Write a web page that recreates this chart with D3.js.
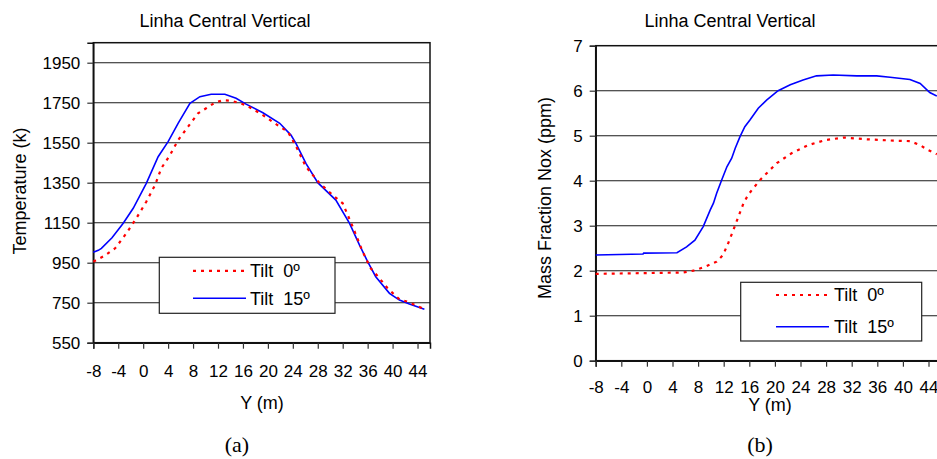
<!DOCTYPE html>
<html>
<head>
<meta charset="utf-8">
<script src="https://cdn.jsdelivr.net/npm/d3@7/dist/d3.min.js"></script>
<style>
  html, body { margin: 0; padding: 0; background: #fff; }
  svg { display: block; }
  text { font-family: "Liberation Sans", Arial, sans-serif; fill: #000; }
</style>
</head>
<body>
<svg id="chart" width="937" height="459"></svg>
<script>
// ---------- data ----------
const xTicks = [-8, -4, 0, 4, 8, 12, 16, 20, 24, 28, 32, 36, 40, 44];

// Panel (a) temperature
const tempTicks = [550, 750, 950, 1150, 1350, 1550, 1750, 1950];
const tempTilt15 = [
  [-8, 1002], [-7.2, 1012], [-6.7, 1022], [-5.0, 1075], [-3.2, 1147], [-1.6, 1222], [0.5, 1347],
  [2.4, 1480], [4.0, 1555], [5.6, 1647], [7.5, 1747], [9.1, 1780], [10.9, 1792],
  [13.1, 1792], [14.9, 1772], [16.5, 1743], [19.2, 1700], [21.9, 1647], [23.7, 1588],
  [24.5, 1547], [26.1, 1447], [28.0, 1350], [30.9, 1263], [33.1, 1147], [34.7, 1038],
  [36.0, 955], [37.3, 880], [39.5, 797], [41.1, 763], [42.7, 743], [45.1, 717]
];
const tempTilt0 = [
  [-8, 955], [-6.2, 985], [-4.5, 1022], [-2.7, 1097], [-1.1, 1172], [0.5, 1255],
  [1.9, 1338], [2.9, 1422], [4.3, 1488], [5.6, 1563], [7.2, 1630], [8.8, 1697],
  [10.1, 1722], [11.5, 1750], [12.8, 1763], [14.1, 1760], [16.5, 1738], [19.2, 1688],
  [21.9, 1630], [23.2, 1605], [24.5, 1533], [26.1, 1430], [28.3, 1347], [30.7, 1280],
  [32.0, 1247], [33.6, 1130], [35.2, 1005], [36.5, 922], [37.9, 872], [39.2, 822],
  [41.1, 767], [42.4, 755], [44.8, 722]
];

// Panel (b) NOx mass fraction
const noxTicks = [0, 1, 2, 3, 4, 5, 6, 7];
const noxTilt15 = [
  [-8, 2.35], [-0.6, 2.37], [-0.5, 2.39], [4.7, 2.40], [6.2, 2.53], [7.5, 2.68],
  [8.8, 2.98], [9.9, 3.35], [10.4, 3.50], [10.9, 3.72], [11.7, 4.02], [12.5, 4.31],
  [13.25, 4.50], [13.8, 4.72], [14.55, 4.98], [15.3, 5.20], [16.1, 5.35], [17.4, 5.61],
  [18.7, 5.79], [20.5, 6.00], [22.4, 6.13], [24.4, 6.24], [26.5, 6.33], [29.1, 6.35],
  [32.8, 6.33], [35.9, 6.33], [38.0, 6.30], [41.1, 6.25], [42.7, 6.16], [44.2, 5.96],
  [45.3, 5.88]
];
const noxTilt0 = [
  [-8, 1.93], [5.7, 1.96], [7.25, 2.00], [9.3, 2.10], [10.9, 2.20], [11.9, 2.35],
  [12.7, 2.61], [13.5, 2.90], [14.3, 3.20], [15.1, 3.50], [15.8, 3.68], [16.6, 3.83],
  [17.9, 4.05], [20.3, 4.39], [22.6, 4.61], [25.2, 4.79], [27.8, 4.90], [30.7, 4.96],
  [34.3, 4.92], [38.5, 4.89], [41.1, 4.88], [42.7, 4.79], [43.7, 4.70], [45.3, 4.59]
];

const titleText = "Linha Central Vertical";
const legendLabels = ["Tilt\u00A0 0º", "Tilt\u00A0 15º"];

// ---------- drawing ----------
const svg = d3.select("#chart");
const fmt = d => String(d);

function panel(cfg) {
  const g = svg.append("g");
  const x = d3.scaleLinear().domain([-8, 46]).range([cfg.left, cfg.right]);
  const y = d3.scaleLinear().domain(cfg.yDomain).range([cfg.bottom, cfg.top]);

  // gridlines
  g.append("g").selectAll("line").data(cfg.yTicks.filter(v => v > cfg.yDomain[0] && v < cfg.yDomain[1]))
    .join("line")
    .attr("x1", cfg.left).attr("x2", cfg.right)
    .attr("y1", d => y(d)).attr("y2", d => y(d))
    .attr("stroke", "#1a1a1a").attr("stroke-width", 1.1);

  // frame
  g.append("rect")
    .attr("x", cfg.left).attr("y", cfg.top)
    .attr("width", cfg.right - cfg.left).attr("height", cfg.bottom - cfg.top)
    .attr("fill", "none").attr("stroke", "#111").attr("stroke-width", 1.5);

  // y axis
  const yAxis = d3.axisLeft(y).tickValues(cfg.yTicks).tickSize(6).tickPadding(7).tickFormat(fmt);
  const ya = g.append("g").attr("transform", `translate(${cfg.left},0)`).call(yAxis);
  ya.select(".domain").attr("stroke", "#111").attr("stroke-width", 1.5);
  ya.selectAll(".tick line").attr("stroke", "#333").attr("stroke-width", 1.2);
  ya.selectAll("text").style("font-size", "17px").attr("font-family", "Liberation Sans, Arial, sans-serif");

  // x axis
  const xAxis = d3.axisBottom(x).tickValues(xTicks).tickSize(6).tickPadding(cfg.xPad).tickFormat(fmt);
  const xa = g.append("g").attr("transform", `translate(0,${cfg.bottom})`).call(xAxis);
  xa.select(".domain").attr("stroke", "#111").attr("stroke-width", 1.5);
  xa.selectAll(".tick line").attr("stroke", "#333").attr("stroke-width", 1.2);
  xa.selectAll("text").style("font-size", "17px").attr("font-family", "Liberation Sans, Arial, sans-serif");

  // lines
  const line = d3.line().x(d => x(d[0])).y(d => y(d[1]));
  g.append("path").datum(cfg.s15).attr("d", line)
    .attr("fill", "none").attr("stroke", "#0000ff").attr("stroke-width", 1.6);
  g.append("path").datum(cfg.s0).attr("d", line)
    .attr("fill", "none").attr("stroke", "#ff0000").attr("stroke-width", 2.2)
    .attr("stroke-dasharray", "3,5");

  // titles
  g.append("text").attr("x", cfg.titleX).attr("y", 27).attr("text-anchor", "middle")
    .style("font-size", "18px").text(titleText);
  g.append("text").attr("x", cfg.xTitleX).attr("y", cfg.xTitleY).attr("text-anchor", "middle")
    .style("font-size", "18px").text("Y (m)");
  g.append("text")
    .attr("transform", `translate(${cfg.yTitleX},${cfg.yTitleY}) rotate(-90)`)
    .attr("text-anchor", "middle").attr("dy", "0.35em")
    .style("font-size", "18px").text(cfg.yTitle);

  // legend
  const L = cfg.legend;
  const lg = g.append("g");
  lg.append("rect").attr("x", L.x).attr("y", L.y).attr("width", L.w).attr("height", L.h)
    .attr("fill", "#fff").attr("stroke", "#222").attr("stroke-width", 1.2);
  const rows = [
    { label: legendLabels[0], color: "#ff0000", dash: "3,5", w: 2.2 },
    { label: legendLabels[1], color: "#0000ff", dash: null, w: 1.6 }
  ];
  rows.forEach((r, i) => {
    const cy = L.y + L.rowY[i];
    const ln = lg.append("line").attr("x1", L.lx1).attr("x2", L.lx2).attr("y1", cy).attr("y2", cy)
      .attr("stroke", r.color).attr("stroke-width", r.w);
    if (r.dash) ln.attr("stroke-dasharray", r.dash);
    lg.append("text").attr("x", L.tx).attr("y", cy).attr("dy", "0.35em")
      .style("font-size", "18px").style("white-space", "pre").text(r.label);
  });

  // panel label
  svg.append("text").attr("x", cfg.capX).attr("y", 452).attr("text-anchor", "middle")
    .style("font-family", "'Liberation Serif', 'Times New Roman', serif")
    .style("font-size", "22px").text(cfg.cap);
}

panel({
  left: 93.3, right: 430, top: 42.7, bottom: 342.7,
  yDomain: [550, 2050], yTicks: tempTicks, xPad: 16,
  s15: tempTilt15, s0: tempTilt0,
  titleX: 225, xTitleX: 262, xTitleY: 409, yTitleX: 20, yTitleY: 191,
  yTitle: "Temperature (k)",
  legend: { x: 159.3, y: 257.3, w: 175.7, h: 56, rowY: [13.5, 41], lx1: 193, lx2: 246, tx: 250 },
  cap: "(a)", capX: 237
});

panel({
  left: 595.7, right: 941.3, top: 45.7, bottom: 360.7,
  yDomain: [0, 7], yTicks: noxTicks, xPad: 14,
  s15: noxTilt15, s0: noxTilt0,
  titleX: 730, xTitleX: 770, xTitleY: 411, yTitleX: 545, yTitleY: 198,
  yTitle: "Mass Fraction Nox (ppm)",
  legend: { x: 740.7, y: 282.3, w: 181, h: 58.7, rowY: [12.7, 44.4], lx1: 776, lx2: 829, tx: 834 },
  cap: "(b)", capX: 760
});
</script>
</body>
</html>
